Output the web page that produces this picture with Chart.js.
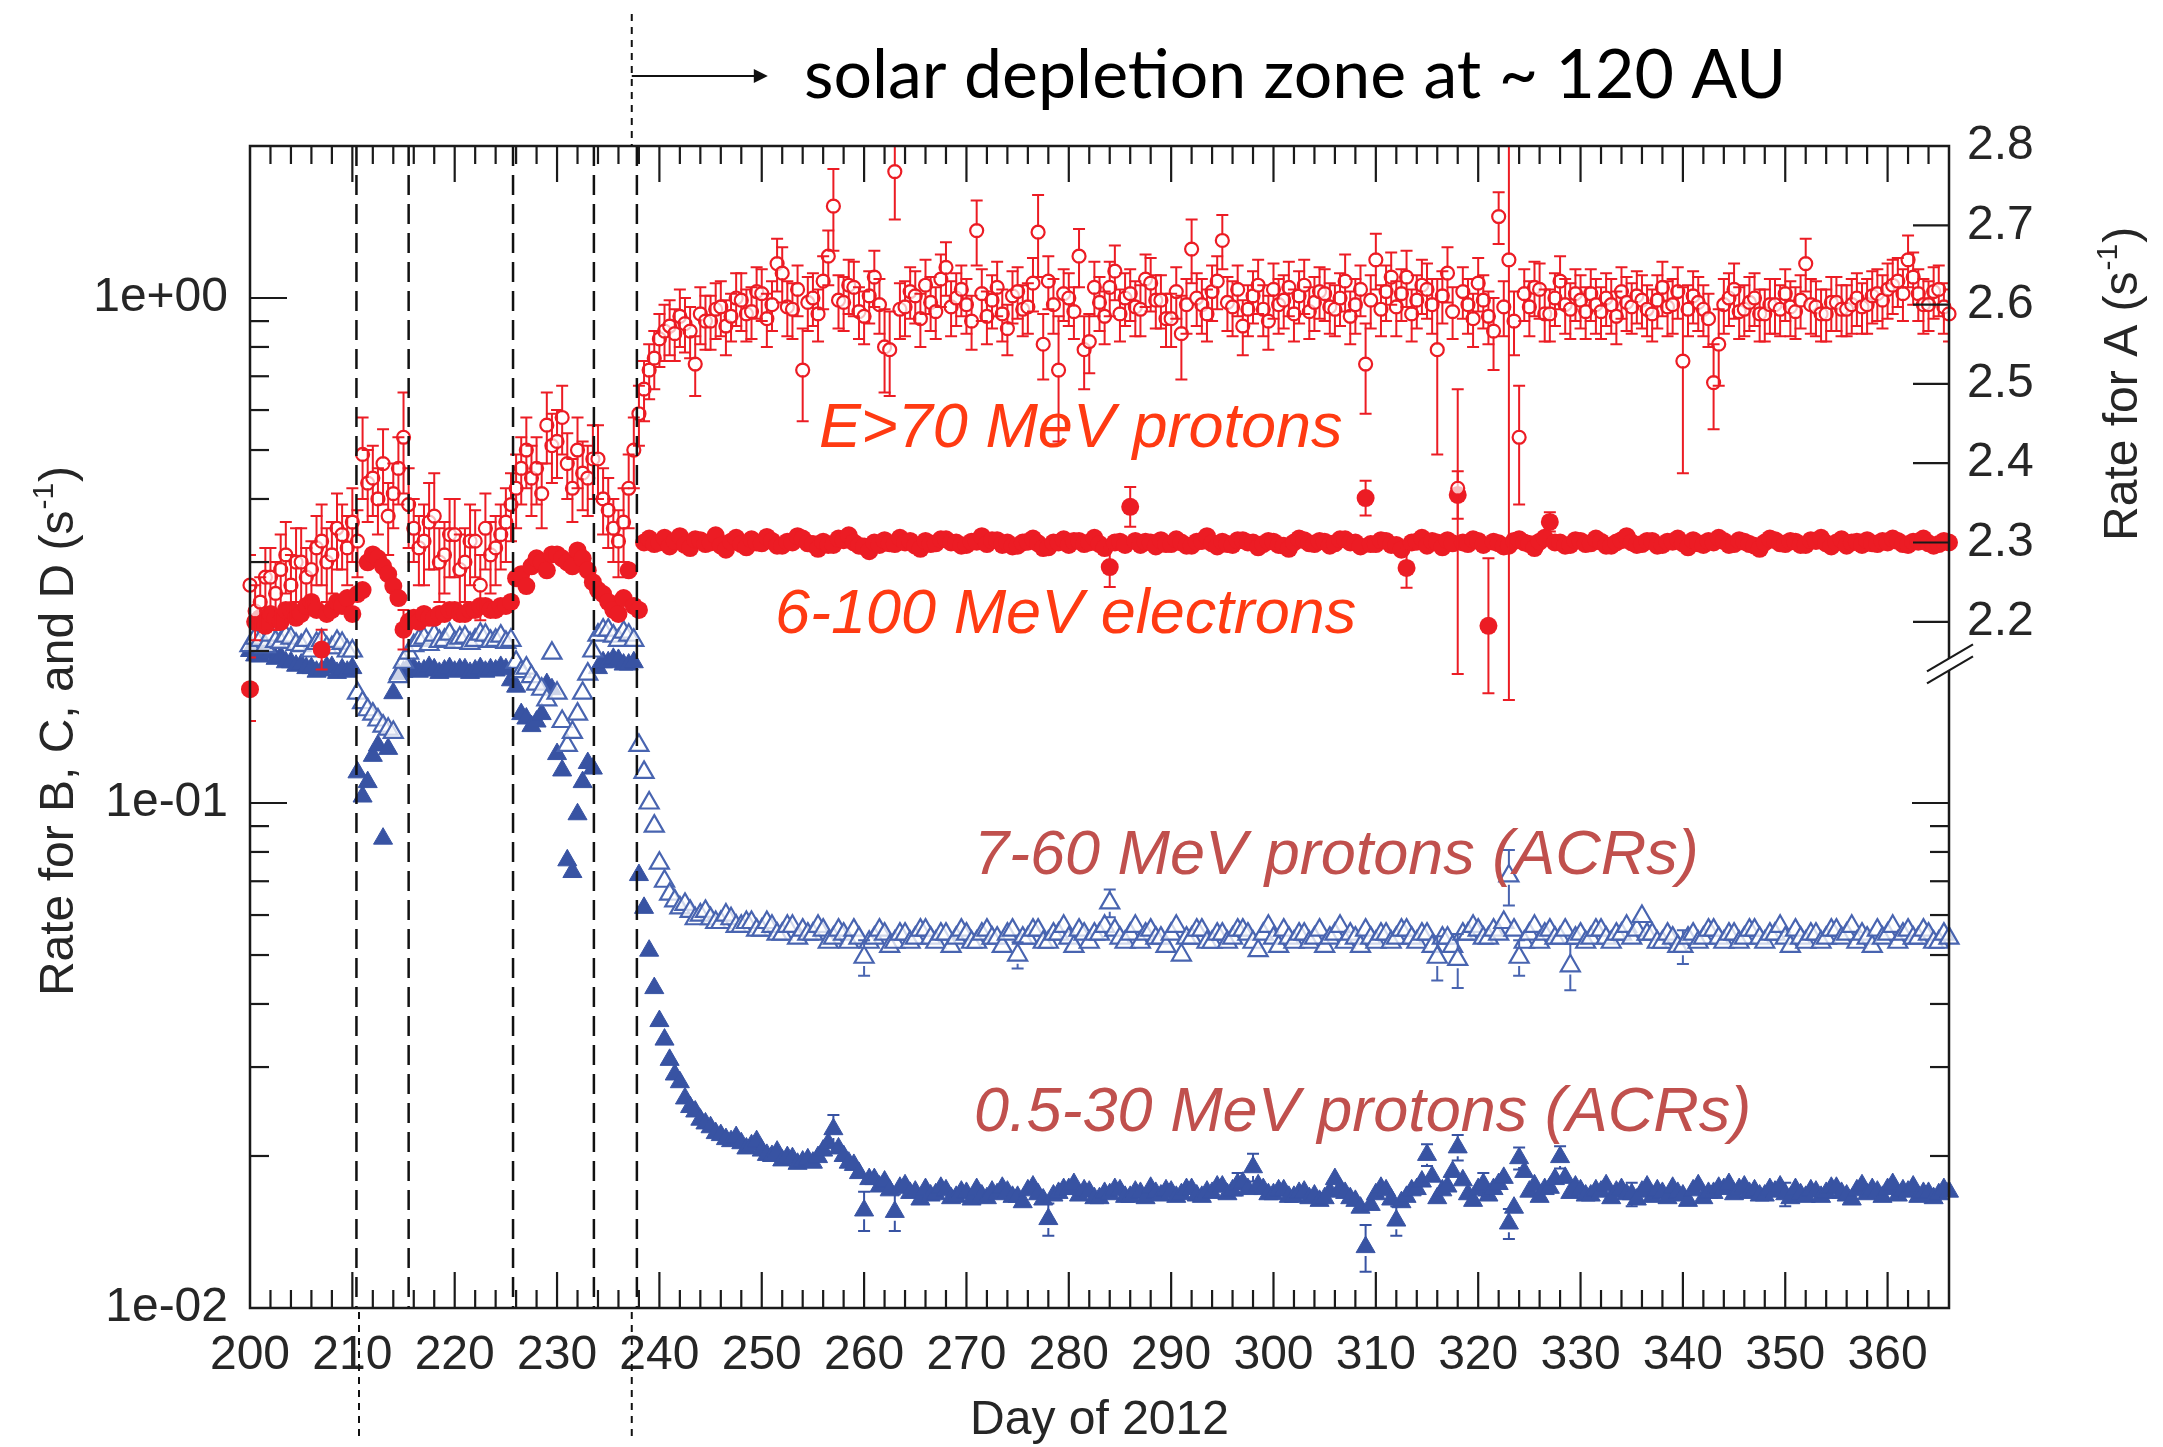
<!DOCTYPE html>
<html>
<head>
<meta charset="utf-8">
<title>Rates, Day of 2012</title>
<script src="https://cdn.jsdelivr.net/npm/chart.js@4.4.1/dist/chart.umd.min.js"></script>
<style>
  html, body { margin: 0; padding: 0; background: #fff; }
  #wrap { width: 2163px; height: 1447px; }
</style>
</head>
<body>
<div id="wrap"><canvas id="rateChart" width="2163" height="1447"></canvas></div>
<script>
// half-day averages from day 200.0 to 366.0 of 2012 (pairs: day.0, day.5)
const firstDay = 200;
const step = 0.5;

// E>70 MeV protons (left axis)
const protonRate = [
  0.27, 0.24, 0.25, 0.28, 0.28, 0.26, 0.29, 0.31, 0.27, 0.30,
  0.30, 0.28, 0.29, 0.32, 0.33, 0.30, 0.31, 0.35, 0.34, 0.32,
  0.36, 0.33, 0.49, 0.43, 0.44, 0.40, 0.47, 0.37, 0.41, 0.46,
  0.53, 0.39, 0.35, 0.32, 0.33, 0.36, 0.37, 0.30, 0.31, 0.34,
  0.34, 0.29, 0.30, 0.33, 0.33, 0.27, 0.35, 0.31, 0.32, 0.34,
  0.36, 0.39, 0.42, 0.46, 0.50, 0.44, 0.46, 0.41, 0.56, 0.51,
  0.52, 0.58, 0.47, 0.42, 0.50, 0.45, 0.44, 0.48, 0.48, 0.40,
  0.38, 0.35, 0.33, 0.36, 0.42, 0.50, 0.59, 0.66, 0.72, 0.76,
  0.83, 0.86, 0.88, 0.85, 0.92, 0.89, 0.86, 0.74, 0.93, 0.90,
  0.90, 0.95, 0.96, 0.88, 0.92, 1.00, 0.99, 0.93, 0.94, 1.03,
  1.02, 0.91, 0.97, 1.17, 1.12, 0.96, 0.95, 1.04, 0.72, 0.98,
  1.00, 0.93, 1.08, 1.21, 1.52, 0.99, 0.98, 1.06, 1.05, 0.94,
  0.92, 1.01, 1.10, 0.97, 0.80, 0.79, 1.78, 0.95, 0.96, 1.03,
  1.01, 0.91, 1.06, 0.98, 0.94, 1.09, 1.15, 0.96, 1.00, 1.04,
  0.97, 0.90, 1.36, 1.02, 0.92, 0.99, 1.05, 0.93, 0.87, 1.01,
  1.03, 0.95, 0.96, 1.07, 1.35, 0.81, 1.08, 0.97, 0.72, 1.02,
  1.00, 0.94, 1.21, 0.79, 0.82, 1.05, 0.98, 0.92, 1.05, 1.13,
  0.93, 1.00, 1.02, 0.96, 0.95, 1.09, 1.07, 0.99, 0.99, 0.91,
  0.91, 1.03, 0.85, 0.97, 1.25, 1.00, 0.97, 0.93, 1.03, 1.08,
  1.30, 0.98, 0.96, 1.04, 0.88, 0.95, 1.01, 1.06, 0.95, 0.90,
  1.04, 0.97, 0.99, 1.05, 0.93, 1.01, 1.06, 0.94, 0.98, 1.03,
  1.02, 0.96, 0.95, 1.00, 1.08, 0.92, 0.97, 1.04, 0.74, 0.99,
  1.19, 0.95, 1.03, 1.10, 0.96, 1.02, 1.10, 0.93, 0.99, 1.06,
  1.04, 0.97, 0.79, 1.01, 1.12, 0.94, 0.42, 1.03, 0.97, 0.91,
  1.07, 0.99, 0.92, 0.86, 1.45, 0.96, 1.19, 0.90, 0.53, 1.02,
  0.96, 1.05, 1.04, 0.93, 0.93, 1.00, 1.08, 0.97, 0.95, 1.02,
  0.99, 0.94, 1.02, 0.97, 0.94, 1.00, 0.97, 0.92, 1.03, 0.98,
  0.96, 1.01, 0.99, 0.95, 0.93, 0.99, 1.05, 0.96, 0.97, 1.03,
  0.75, 0.95, 1.01, 0.98, 0.95, 0.91, 0.68, 0.81, 0.97, 1.00,
  1.04, 0.94, 0.95, 0.98, 1.00, 0.93, 0.93, 0.97, 0.97, 0.95,
  1.02, 0.96, 0.94, 0.99, 1.17, 0.97, 0.96, 0.93, 0.93, 0.98,
  0.98, 0.95, 0.95, 0.97, 1.00, 0.96, 0.97, 1.01, 1.02, 0.99,
  1.04, 1.06, 1.08, 1.02, 1.19, 1.10, 1.02, 0.97, 0.97, 1.03,
  1.04, 0.96, 0.93
];
const protonErr = [
  0.04, 0.03, 0.03, 0.04, 0.04, 0.04, 0.05, 0.05, 0.04, 0.05,
  0.05, 0.04, 0.04, 0.05, 0.06, 0.05, 0.05, 0.06, 0.05, 0.05,
  0.06, 0.05, 0.09, 0.07, 0.07, 0.06, 0.08, 0.06, 0.06, 0.07,
  0.12, 0.07, 0.05, 0.05, 0.06, 0.07, 0.08, 0.05, 0.05, 0.06,
  0.06, 0.05, 0.05, 0.06, 0.05, 0.04, 0.06, 0.05, 0.05, 0.05,
  0.06, 0.06, 0.07, 0.07, 0.08, 0.07, 0.07, 0.06, 0.09, 0.08,
  0.08, 0.09, 0.07, 0.06, 0.08, 0.07, 0.07, 0.08, 0.08, 0.06,
  0.06, 0.05, 0.05, 0.06, 0.07, 0.08, 0.08, 0.09, 0.09, 0.10,
  0.10, 0.11, 0.11, 0.10, 0.12, 0.11, 0.10, 0.10, 0.12, 0.11,
  0.11, 0.12, 0.12, 0.11, 0.10, 0.12, 0.13, 0.11, 0.11, 0.12,
  0.12, 0.11, 0.11, 0.14, 0.14, 0.12, 0.12, 0.12, 0.15, 0.12,
  0.12, 0.11, 0.13, 0.15, 0.28, 0.12, 0.12, 0.13, 0.13, 0.11,
  0.11, 0.12, 0.14, 0.12, 0.15, 0.15, 0.35, 0.12, 0.12, 0.12,
  0.12, 0.11, 0.13, 0.12, 0.11, 0.13, 0.14, 0.12, 0.12, 0.12,
  0.12, 0.11, 0.20, 0.12, 0.11, 0.12, 0.13, 0.11, 0.10, 0.12,
  0.12, 0.11, 0.11, 0.13, 0.25, 0.12, 0.13, 0.12, 0.20, 0.12,
  0.12, 0.11, 0.16, 0.13, 0.11, 0.13, 0.12, 0.11, 0.13, 0.14,
  0.11, 0.12, 0.12, 0.12, 0.11, 0.13, 0.13, 0.12, 0.12, 0.11,
  0.11, 0.12, 0.16, 0.12, 0.18, 0.12, 0.12, 0.11, 0.13, 0.13,
  0.16, 0.12, 0.12, 0.12, 0.11, 0.11, 0.12, 0.13, 0.11, 0.11,
  0.13, 0.12, 0.12, 0.13, 0.11, 0.12, 0.13, 0.11, 0.12, 0.12,
  0.12, 0.11, 0.11, 0.12, 0.14, 0.11, 0.12, 0.12, 0.15, 0.12,
  0.15, 0.11, 0.13, 0.13, 0.12, 0.12, 0.14, 0.11, 0.12, 0.13,
  0.13, 0.12, 0.30, 0.12, 0.14, 0.11, 0.24, 0.12, 0.12, 0.11,
  0.13, 0.12, 0.11, 0.14, 0.17, 0.12, 1.03, 0.13, 0.14, 0.12,
  0.12, 0.13, 0.13, 0.11, 0.11, 0.12, 0.13, 0.12, 0.12, 0.12,
  0.12, 0.11, 0.12, 0.12, 0.11, 0.12, 0.12, 0.11, 0.12, 0.12,
  0.11, 0.12, 0.12, 0.11, 0.11, 0.12, 0.13, 0.12, 0.12, 0.12,
  0.30, 0.11, 0.12, 0.12, 0.11, 0.11, 0.13, 0.14, 0.12, 0.12,
  0.13, 0.11, 0.11, 0.12, 0.12, 0.11, 0.11, 0.12, 0.12, 0.11,
  0.12, 0.12, 0.11, 0.12, 0.14, 0.12, 0.12, 0.11, 0.11, 0.12,
  0.12, 0.11, 0.11, 0.12, 0.12, 0.11, 0.12, 0.12, 0.12, 0.12,
  0.13, 0.13, 0.12, 0.12, 0.14, 0.13, 0.12, 0.12, 0.11, 0.12,
  0.12, 0.11, 0.11
];

// 6-100 MeV electrons (right axis, rate A)
const electronRate = [
  2.115, 2.20, 2.205, 2.195, 2.21, 2.205, 2.20, 2.215, 2.215, 2.205,
  2.21, 2.22, 2.225, 2.215, 2.165, 2.21, 2.215, 2.225, 2.22, 2.23,
  2.21, 2.235, 2.24, 2.275, 2.285, 2.28, 2.27, 2.26, 2.245, 2.23,
  2.19, 2.20, 2.205, 2.20, 2.21, 2.205, 2.205, 2.21, 2.21, 2.215,
  2.215, 2.21, 2.21, 2.215, 2.215, 2.22, 2.22, 2.215, 2.215, 2.22,
  2.22, 2.225, 2.255, 2.26, 2.245, 2.27, 2.28, 2.275, 2.265, 2.285,
  2.285, 2.28, 2.275, 2.27, 2.29, 2.28, 2.265, 2.25, 2.24, 2.235,
  2.225, 2.215, 2.21, 2.23, 2.265, 2.22, 2.215, 2.30, 2.305, 2.298,
  2.30, 2.306, 2.295, 2.302, 2.308, 2.297, 2.293, 2.304, 2.303, 2.298,
  2.30, 2.309, 2.296, 2.291, 2.301, 2.306, 2.298, 2.294, 2.304, 2.30,
  2.299, 2.307, 2.302, 2.296, 2.296, 2.301, 2.30, 2.308, 2.305, 2.299,
  2.298, 2.292, 2.301, 2.297, 2.297, 2.305, 2.303, 2.309, 2.30, 2.296,
  2.295, 2.289, 2.30, 2.297, 2.303, 2.299, 2.298, 2.306, 2.30, 2.302,
  2.296, 2.292, 2.302, 2.298, 2.299, 2.304, 2.304, 2.30, 2.30, 2.296,
  2.297, 2.301, 2.301, 2.308, 2.298, 2.303, 2.303, 2.297, 2.30, 2.295,
  2.296, 2.30, 2.301, 2.305, 2.299, 2.293, 2.294, 2.30, 2.30, 2.304,
  2.297, 2.302, 2.302, 2.298, 2.30, 2.306, 2.298, 2.293, 2.269, 2.30,
  2.301, 2.297, 2.345, 2.302, 2.297, 2.301, 2.30, 2.295, 2.303, 2.298,
  2.298, 2.304, 2.30, 2.296, 2.296, 2.301, 2.302, 2.308, 2.299, 2.295,
  2.301, 2.298, 2.297, 2.303, 2.303, 2.30, 2.30, 2.294, 2.298, 2.302,
  2.301, 2.297, 2.296, 2.292, 2.30, 2.305, 2.303, 2.299, 2.298, 2.302,
  2.301, 2.296, 2.299, 2.304, 2.304, 2.30, 2.30, 2.295, 2.356, 2.298,
  2.298, 2.303, 2.302, 2.297, 2.297, 2.291, 2.268, 2.30, 2.301, 2.306,
  2.296, 2.302, 2.30, 2.294, 2.303, 2.299, 2.36, 2.30, 2.298, 2.304,
  2.302, 2.297, 2.195, 2.301, 2.299, 2.295, 2.296, 2.302, 2.304, 2.30,
  2.298, 2.293, 2.301, 2.306, 2.326, 2.30, 2.30, 2.296, 2.297, 2.303,
  2.302, 2.298, 2.299, 2.305, 2.301, 2.296, 2.296, 2.30, 2.303, 2.308,
  2.30, 2.297, 2.298, 2.302, 2.302, 2.296, 2.297, 2.301, 2.301, 2.305,
  2.299, 2.294, 2.303, 2.299, 2.297, 2.302, 2.30, 2.306, 2.302, 2.297,
  2.298, 2.303, 2.301, 2.298, 2.296, 2.292, 2.30, 2.305, 2.303, 2.299,
  2.298, 2.302, 2.301, 2.297, 2.297, 2.303, 2.302, 2.306, 2.299, 2.295,
  2.30, 2.304, 2.296, 2.30, 2.301, 2.297, 2.303, 2.299, 2.298, 2.302,
  2.30, 2.305, 2.302, 2.298, 2.297, 2.301, 2.301, 2.305, 2.299, 2.296,
  2.298, 2.302, 2.30
];
const electronErrDays = [200, 207, 215, 284, 286, 309, 313, 318, 321, 327];
const electronErrs = [0.04, 0.025, 0.025, 0.025, 0.025, 0.022, 0.025, 0.03, 0.085, 0.012];

// 7-60 MeV protons (ACRs)
const acrHighRate = [
  0.205, 0.212, 0.21, 0.204, 0.215, 0.209, 0.208, 0.214, 0.212, 0.206,
  0.205, 0.21, 0.20, 0.207, 0.21, 0.203, 0.203, 0.209, 0.207, 0.20,
  0.20, 0.165, 0.158, 0.153, 0.15, 0.146, 0.142, 0.14, 0.138, 0.178,
  0.19, 0.198, 0.205, 0.21, 0.212, 0.206, 0.215, 0.209, 0.21, 0.216,
  0.208, 0.212, 0.213, 0.207, 0.21, 0.216, 0.215, 0.209, 0.21, 0.214,
  0.208, 0.21, 0.19, 0.182, 0.185, 0.178, 0.172, 0.168, 0.16, 0.198,
  0.165, 0.145, 0.13, 0.138, 0.15, 0.165, 0.18, 0.20, 0.215, 0.22,
  0.22, 0.214, 0.21, 0.218, 0.215, 0.21, 0.13, 0.115, 0.10, 0.09,
  0.076, 0.07, 0.066, 0.064, 0.062, 0.063, 0.061, 0.059, 0.060, 0.061,
  0.059, 0.058, 0.058, 0.060, 0.059, 0.057, 0.057, 0.058, 0.058, 0.056,
  0.056, 0.058, 0.057, 0.055, 0.055, 0.057, 0.057, 0.054, 0.056, 0.055,
  0.055, 0.057, 0.056, 0.053, 0.054, 0.056, 0.055, 0.053, 0.056, 0.054,
  0.0495, 0.053, 0.054, 0.056, 0.055, 0.052, 0.053, 0.055, 0.055, 0.053,
  0.054, 0.056, 0.056, 0.054, 0.053, 0.055, 0.055, 0.052, 0.054, 0.056,
  0.055, 0.053, 0.053, 0.055, 0.056, 0.054, 0.054, 0.052, 0.055, 0.056,
  0.050, 0.054, 0.054, 0.056, 0.056, 0.053, 0.053, 0.055, 0.055, 0.057,
  0.054, 0.052, 0.056, 0.055, 0.053, 0.055, 0.055, 0.057, 0.0634, 0.056,
  0.054, 0.053, 0.055, 0.057, 0.053, 0.055, 0.056, 0.054, 0.054, 0.052,
  0.055, 0.057, 0.050, 0.054, 0.054, 0.056, 0.056, 0.053, 0.053, 0.055,
  0.055, 0.053, 0.054, 0.056, 0.056, 0.055, 0.053, 0.051, 0.055, 0.057,
  0.054, 0.052, 0.056, 0.054, 0.053, 0.055, 0.055, 0.053, 0.054, 0.056,
  0.052, 0.054, 0.055, 0.057, 0.053, 0.055, 0.054, 0.052, 0.056, 0.054,
  0.053, 0.055, 0.055, 0.053, 0.054, 0.056, 0.056, 0.054, 0.053, 0.055,
  0.055, 0.052, 0.0495, 0.054, 0.054, 0.052, 0.049, 0.055, 0.055, 0.057,
  0.056, 0.054, 0.054, 0.056, 0.055, 0.058, 0.0717, 0.056, 0.0495, 0.053,
  0.055, 0.057, 0.053, 0.055, 0.056, 0.054, 0.054, 0.056, 0.0476, 0.054,
  0.055, 0.053, 0.054, 0.056, 0.056, 0.054, 0.053, 0.055, 0.055, 0.057,
  0.054, 0.056, 0.0596, 0.055, 0.055, 0.053, 0.053, 0.055, 0.054, 0.052,
  0.052, 0.054, 0.055, 0.053, 0.054, 0.056, 0.056, 0.054, 0.053, 0.055,
  0.055, 0.053, 0.054, 0.056, 0.056, 0.054, 0.053, 0.055, 0.055, 0.057,
  0.054, 0.052, 0.056, 0.054, 0.053, 0.055, 0.055, 0.053, 0.054, 0.056,
  0.056, 0.054, 0.055, 0.057, 0.053, 0.055, 0.054, 0.052, 0.056, 0.054,
  0.055, 0.057, 0.053, 0.055, 0.056, 0.054, 0.054, 0.056, 0.055, 0.053,
  0.053, 0.055, 0.054
];
const acrHighErrDays = [260, 275, 284, 316, 318, 323, 324, 329, 340];
const acrHighErrs = [0.004, 0.003, 0.004, 0.005, 0.006, 0.009, 0.004, 0.005, 0.004];

// 0.5-30 MeV protons (ACRs)
const acrLowRate = [
  0.20, 0.196, 0.195, 0.199, 0.198, 0.193, 0.195, 0.19, 0.19, 0.187,
  0.188, 0.185, 0.185, 0.182, 0.183, 0.186, 0.186, 0.181, 0.184, 0.182,
  0.185, 0.115, 0.103, 0.11, 0.124, 0.13, 0.085, 0.128, 0.165, 0.18,
  0.182, 0.186, 0.185, 0.182, 0.183, 0.186, 0.184, 0.181, 0.183, 0.185,
  0.182, 0.184, 0.184, 0.181, 0.183, 0.185, 0.182, 0.184, 0.183, 0.186,
  0.184, 0.175, 0.17, 0.15, 0.147, 0.142, 0.145, 0.15, 0.172, 0.168,
  0.125, 0.116, 0.077, 0.073, 0.095, 0.11, 0.12, 0.117, 0.185, 0.19,
  0.19, 0.193, 0.192, 0.188, 0.188, 0.19, 0.072, 0.062, 0.051, 0.043,
  0.037, 0.034, 0.031, 0.029, 0.028, 0.026, 0.025, 0.0245, 0.0236, 0.0232,
  0.0228, 0.0222, 0.022, 0.0216, 0.0214, 0.0218, 0.0212, 0.0207, 0.021, 0.0214,
  0.0205, 0.0201, 0.020, 0.0204, 0.0196, 0.0199, 0.0198, 0.0193, 0.0195, 0.0197,
  0.0194, 0.0199, 0.0205, 0.0212, 0.0226, 0.0207, 0.020, 0.0194, 0.0192, 0.0185,
  0.0156, 0.018, 0.018, 0.0174, 0.0178, 0.0171, 0.0155, 0.0173, 0.0175, 0.0169,
  0.017, 0.0164, 0.0172, 0.0167, 0.0168, 0.0173, 0.0171, 0.0165, 0.0166, 0.017,
  0.0169, 0.0164, 0.0172, 0.0167, 0.0165, 0.017, 0.0168, 0.0173, 0.017, 0.0166,
  0.0166, 0.0162, 0.0171, 0.0174, 0.0168, 0.0164, 0.015, 0.0167, 0.0169, 0.0172,
  0.0172, 0.0176, 0.0167, 0.0171, 0.017, 0.0165, 0.0165, 0.0169, 0.0168, 0.0172,
  0.0171, 0.0166, 0.0166, 0.017, 0.0169, 0.0165, 0.0173, 0.0169, 0.0167, 0.0171,
  0.017, 0.0166, 0.0168, 0.0172, 0.0172, 0.0167, 0.0166, 0.017, 0.0169, 0.0174,
  0.0174, 0.0168, 0.0171, 0.0176, 0.0177, 0.0172, 0.019, 0.0175, 0.0172, 0.0168,
  0.0168, 0.0171, 0.0171, 0.0166, 0.0166, 0.0169, 0.017, 0.0165, 0.0167, 0.0163,
  0.0165, 0.017, 0.018, 0.0172, 0.0169, 0.0165, 0.0163, 0.0158, 0.0132, 0.016,
  0.0168, 0.0173, 0.0171, 0.0164, 0.0149, 0.0162, 0.0166, 0.0171, 0.0172, 0.0178,
  0.0201, 0.0182, 0.0165, 0.0171, 0.0174, 0.0186, 0.0208, 0.0179, 0.0168, 0.0163,
  0.0172, 0.0176, 0.0167, 0.0172, 0.0176, 0.0181, 0.0147, 0.0158, 0.0198, 0.0186,
  0.017, 0.0175, 0.0166, 0.0172, 0.0173, 0.018, 0.0199, 0.0181, 0.0169, 0.0174,
  0.0171, 0.0167, 0.0167, 0.0171, 0.017, 0.0175, 0.0165, 0.017, 0.0172, 0.0168,
  0.0168, 0.0164, 0.017, 0.0174, 0.0166, 0.0171, 0.0169, 0.0165, 0.0173, 0.0169,
  0.0167, 0.0163, 0.0171, 0.0175, 0.0165, 0.0169, 0.0169, 0.0173, 0.0172, 0.0176,
  0.0168, 0.0172, 0.0174, 0.0169, 0.0171, 0.0167, 0.0167, 0.0172, 0.017, 0.0174,
  0.0168, 0.0165, 0.0172, 0.0168, 0.0166, 0.0171, 0.017, 0.0166, 0.0169, 0.0173,
  0.0173, 0.0169, 0.0167, 0.0164, 0.0171, 0.0175, 0.0168, 0.0172, 0.017, 0.0166,
  0.0172, 0.0176, 0.0167, 0.0171, 0.017, 0.0174, 0.0166, 0.0169, 0.0169, 0.0165,
  0.0168, 0.0172, 0.017
];
const acrLowErrDays = [257, 260, 263, 278, 296.5, 298, 309, 312, 315, 318, 320.5, 323, 324, 328, 335, 350];
const acrLowErrs = [0.0015, 0.0014, 0.0013, 0.0011, 0.0009, 0.0012, 0.0014, 0.0010, 0.0010, 0.0012, 0.0009, 0.0010, 0.0010, 0.0010, 0.0009, 0.0009];

// axis ticks
const dayTicks = [200, 210, 220, 230, 240, 250, 260, 270, 280, 290, 300, 310, 320, 330, 340, 350, 360];
const rateTicks = [0.01, 0.1, 1];
const rateTickLabels = ['1e-02', '1e-01', '1e+00'];
const rateATicks = [2.2, 2.3, 2.4, 2.5, 2.6, 2.7, 2.8];

// event boundaries (dashed) and the two dotted markers outside the frame
const boundaryDays = [210.4, 215.5, 225.7, 233.6, 237.8];
const markerDays = [210.65, 237.3];

const RED = '#ec1c24';
const BLUE = '#3853a3';
const BLUE_OPEN = '#4864b0';
const INK = '#262626';
const FONT = '"Liberation Sans", Arial, Helvetica, sans-serif';

function toPoints(values) {
  return values.map((v, i) => ({ x: firstDay + i * step, y: v }));
}

function errorsFor(days, errs, n) {
  const out = new Array(n).fill(0);
  days.forEach((d, k) => { out[Math.round((d - firstDay) / step)] = errs[k]; });
  return out;
}

// vertical error bars, drawn right after each dataset
const errorBars = {
  id: 'errorBars',
  afterDatasetDraw(chart, args) {
    const ds = chart.data.datasets[args.index];
    if (!ds.errors) return;
    const ctx = chart.ctx;
    const area = chart.chartArea;
    const yScale = chart.scales[ds.yAxisID];
    const gap = ds.pointRadius * 0.8;
    ctx.save();
    ctx.beginPath();
    ctx.rect(area.left, area.top, area.right - area.left, area.bottom - area.top);
    ctx.clip();
    ctx.strokeStyle = ds.pointBorderColor;
    ctx.lineWidth = 2;
    args.meta.data.forEach((pt, i) => {
      const e = ds.errors[i];
      if (!e) return;
      const v = ds.data[i].y;
      const px = pt.x, py = pt.y;
      const top = yScale.getPixelForValue(v + e);
      const lo = v - e;
      const bottom = lo > yScale.min ? yScale.getPixelForValue(lo) : area.bottom + 20;
      ctx.beginPath();
      if (top < py - gap) { ctx.moveTo(px, py - gap); ctx.lineTo(px, top); }
      if (bottom > py + gap) { ctx.moveTo(px, py + gap); ctx.lineTo(px, bottom); }
      ctx.moveTo(px - 6, top); ctx.lineTo(px + 6, top);
      ctx.moveTo(px - 6, bottom); ctx.lineTo(px + 6, bottom);
      ctx.stroke();
    });
    ctx.restore();
  }
};

function line(ctx, x1, y1, x2, y2) {
  ctx.beginPath();
  ctx.moveTo(x1, y1);
  ctx.lineTo(x2, y2);
  ctx.stroke();
}

// frame, inward tick marks, dashed boundaries, axis break
const frameAndTicks = {
  id: 'frameAndTicks',
  afterDatasetsDraw(chart) {
    const { ctx, chartArea: a } = chart;
    const { x, y, y2 } = chart.scales;
    ctx.save();
    ctx.strokeStyle = '#111';
    ctx.lineWidth = 2.5;
    ctx.setLineDash([20, 9]);
    boundaryDays.forEach(d => {
      const px = x.getPixelForValue(d);
      line(ctx, px, a.top, px, a.bottom);
    });
    ctx.setLineDash([]);

    ctx.strokeStyle = '#1a1a1a';
    ctx.lineWidth = 2.5;
    ctx.strokeRect(a.left, a.top, a.right - a.left, a.bottom - a.top);

    // day ticks, top and bottom
    ctx.lineWidth = 2.2;
    for (let d = 202; d < 366; d += 2) {
      const px = x.getPixelForValue(d);
      const len = d % 10 === 0 ? 36 : 18;
      line(ctx, px, a.bottom, px, a.bottom - len);
      line(ctx, px, a.top, px, a.top + len);
    }

    // log ticks on the left, mirrored on the right below the break
    rateTicks.forEach(base => {
      for (let m = 1; m <= 9; m++) {
        const v = base * m;
        if (v >= y.max) continue;
        const py = y.getPixelForValue(v);
        const len = m === 1 ? 37 : 19;
        line(ctx, a.left, py, a.left + len, py);
        if (v < 0.17) line(ctx, a.right, py, a.right - len, py);
      }
    });

    // rate A ticks on the right
    rateATicks.forEach(v => {
      const py = y2.getPixelForValue(v);
      line(ctx, a.right, py, a.right - 36, py);
    });

    // axis break marks on the right edge
    const by = y2.getPixelForValue(2.14);
    ctx.fillStyle = '#fff';
    ctx.beginPath();
    ctx.moveTo(a.right - 6, by + 4);
    ctx.lineTo(a.right + 6, by - 3);
    ctx.lineTo(a.right + 6, by - 14);
    ctx.lineTo(a.right - 6, by - 7);
    ctx.closePath();
    ctx.fill();
    ctx.lineWidth = 2.2;
    line(ctx, a.right - 22, by + 14, a.right + 24, by - 13);
    line(ctx, a.right - 22, by + 2, a.right + 24, by - 25);
    ctx.restore();
  }
};

// axis titles, curve labels and the top note with its arrow
const annotations = {
  id: 'annotations',
  afterDraw(chart) {
    const { ctx, chartArea: a } = chart;
    const { x, y2 } = chart.scales;
    ctx.save();

    // dotted markers outside the frame
    ctx.strokeStyle = '#111';
    ctx.lineWidth = 2;
    ctx.setLineDash([7, 6]);
    const m0 = x.getPixelForValue(markerDays[0]);
    const m1 = x.getPixelForValue(markerDays[1]);
    line(ctx, m1, 14, m1, a.top);
    line(ctx, m0, a.bottom + 4, m0, 1436);
    line(ctx, m1, a.bottom + 4, m1, 1436);
    ctx.setLineDash([]);

    // arrow
    const ay = 76;
    const ax2 = x.getPixelForValue(250.4);
    ctx.lineWidth = 2.2;
    line(ctx, m1, ay, ax2 - 10, ay);
    ctx.fillStyle = '#111';
    ctx.beginPath();
    ctx.moveTo(ax2 + 2, ay);
    ctx.lineTo(ax2 - 12, ay - 7);
    ctx.lineTo(ax2 - 12, ay + 7);
    ctx.closePath();
    ctx.fill();

    // note
    const note = 'solar depletion zone at ~ 120 AU';
    let size = 60;
    ctx.font = size + 'px Lato, "Open Sans", sans-serif';
    size = size * 982 / ctx.measureText(note).width;
    ctx.font = size.toFixed(1) + 'px Lato, "Open Sans", sans-serif';
    ctx.fillStyle = '#000';
    ctx.textBaseline = 'alphabetic';
    ctx.textAlign = 'left';
    ctx.fillText(note, 804, 98);

    // curve labels
    ctx.font = 'italic 63px ' + FONT;
    ctx.fillStyle = '#ff3a12';
    ctx.fillText('E>70 MeV protons', 819, 447);
    ctx.fillText('6-100 MeV electrons', 775, 633);
    ctx.fillStyle = '#c0504d';
    ctx.fillText('7-60 MeV protons (ACRs)', 974, 874);
    ctx.fillText('0.5-30 MeV protons (ACRs)', 974, 1131);

    // axis titles
    ctx.fillStyle = INK;
    ctx.font = '48px ' + FONT;
    ctx.textAlign = 'center';
    ctx.fillText('Day of 2012', (a.left + a.right) / 2, 1434);

    drawRotatedTitle(ctx, 'Rate for B, C, and D (s', 73, (a.top + a.bottom) / 2 + 4);
    drawRotatedTitle(ctx, 'Rate for A (s', 2137, (a.top + y2.getPixelForValue(2.2)) / 2);
    ctx.restore();
  }
};

function drawRotatedTitle(ctx, main, bx, cy) {
  const big = '48px ' + FONT;
  const small = '30px ' + FONT;
  ctx.font = big;
  const w1 = ctx.measureText(main).width;
  const w3 = ctx.measureText(')').width;
  ctx.font = small;
  const w2 = ctx.measureText('-1').width;
  const total = w1 + w2 + w3 + 2;
  ctx.save();
  ctx.translate(bx, cy);
  ctx.rotate(-Math.PI / 2);
  ctx.textAlign = 'left';
  ctx.textBaseline = 'alphabetic';
  let cx = -total / 2;
  ctx.font = big;
  ctx.fillText(main, cx, 0);
  cx += w1 + 1;
  ctx.font = small;
  ctx.fillText('-1', cx, -20);
  cx += w2 + 1;
  ctx.font = big;
  ctx.fillText(')', cx, 0);
  ctx.restore();
}

const n = protonRate.length;

new Chart(document.getElementById('rateChart'), {
  type: 'scatter',
  data: {
    datasets: [
      {
        label: 'E>70 MeV protons',
        data: toPoints(protonRate),
        errors: protonErr,
        yAxisID: 'y',
        pointStyle: 'circle',
        pointRadius: 6.5,
        pointBorderWidth: 2.2,
        pointBackgroundColor: 'rgba(255,255,255,0.7)',
        pointBorderColor: RED,
        clip: false,
        order: 1
      },
      {
        label: '6-100 MeV electrons',
        data: toPoints(electronRate),
        errors: errorsFor(electronErrDays, electronErrs, n),
        yAxisID: 'y2',
        pointStyle: 'circle',
        pointRadius: 9,
        pointBorderWidth: 0,
        pointBackgroundColor: RED,
        pointBorderColor: RED,
        clip: false,
        order: 2
      },
      {
        label: '7-60 MeV protons (ACRs)',
        data: toPoints(acrHighRate),
        errors: errorsFor(acrHighErrDays, acrHighErrs, n),
        yAxisID: 'y',
        pointStyle: 'triangle',
        pointRadius: 11,
        pointBorderWidth: 2.2,
        pointBackgroundColor: 'rgba(255,255,255,0.75)',
        pointBorderColor: BLUE_OPEN,
        clip: false,
        order: 3
      },
      {
        label: '0.5-30 MeV protons (ACRs)',
        data: toPoints(acrLowRate),
        errors: errorsFor(acrLowErrDays, acrLowErrs, n),
        yAxisID: 'y',
        pointStyle: 'triangle',
        pointRadius: 11,
        pointBorderWidth: 1,
        pointBackgroundColor: BLUE,
        pointBorderColor: BLUE,
        clip: false,
        order: 4
      }
    ]
  },
  options: {
    responsive: false,
    animation: false,
    devicePixelRatio: 1,
    layout: { padding: { top: 146, left: 0, right: 0, bottom: 0 } },
    plugins: { legend: { display: false }, tooltip: { enabled: false } },
    scales: {
      x: {
        type: 'linear',
        position: 'bottom',
        min: 200,
        max: 366,
        grid: { display: false, drawTicks: false },
        border: { display: false },
        afterBuildTicks: s => { s.ticks = dayTicks.map(v => ({ value: v })); },
        afterFit: s => { s.height = 139; },
        ticks: {
          autoSkip: false, maxRotation: 0, padding: 19, color: INK,
          font: { family: FONT, size: 48 },
          callback: v => String(v)
        }
      },
      y: {
        type: 'logarithmic',
        position: 'left',
        min: 0.01,
        max: 2.0,
        grid: { display: false, drawTicks: false },
        border: { display: false },
        afterBuildTicks: s => { s.ticks = rateTicks.map(v => ({ value: v })); },
        afterFit: s => { s.width = 250; },
        ticks: {
          autoSkip: false, padding: 22, color: INK,
          font: { family: FONT, size: 48 },
          callback: (v, i) => rateTickLabels[i]
        }
      },
      y2: {
        type: 'linear',
        position: 'right',
        min: 1.3347,
        max: 2.8,
        grid: { display: false, drawTicks: false },
        border: { display: false },
        afterBuildTicks: s => { s.ticks = rateATicks.map(v => ({ value: v })); },
        afterFit: s => { s.width = 214; },
        ticks: {
          autoSkip: false, padding: 18, color: INK,
          font: { family: FONT, size: 48 },
          callback: v => v.toFixed(1)
        }
      }
    }
  },
  plugins: [errorBars, frameAndTicks, annotations]
});
</script>
</body>
</html>
